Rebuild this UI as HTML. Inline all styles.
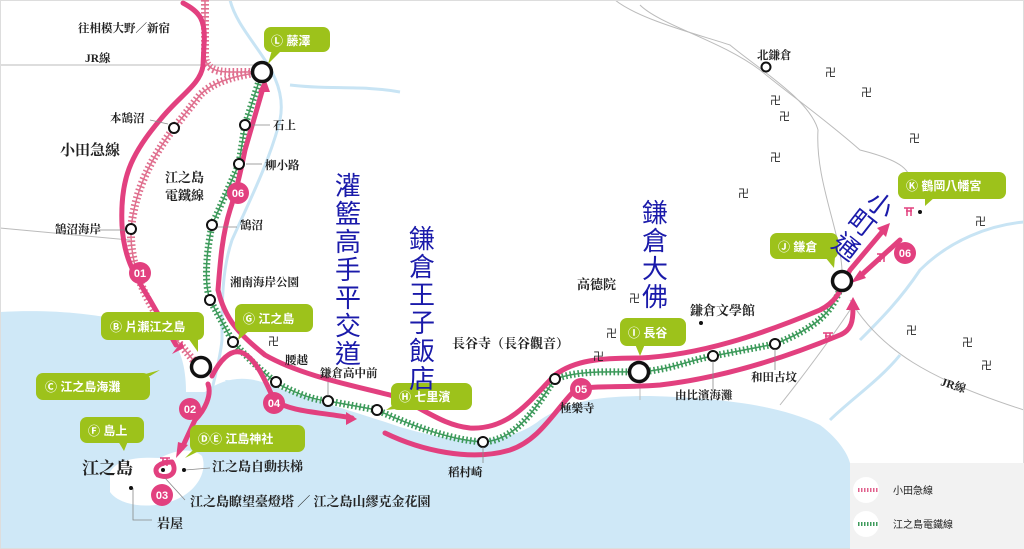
<!DOCTYPE html>
<html><head><meta charset="utf-8"><style>
html,body{margin:0;padding:0;background:#fff;}
svg{display:block;}
.t{font-family:"Liberation Serif","Noto Serif CJK SC","Noto Sans CJK TC",serif;font-size:11.5px;fill:#222;font-weight:bold;}
.c{font-family:"Liberation Sans","Noto Sans CJK TC",sans-serif;font-size:12px;fill:#fff;font-weight:bold;}
.b{font-family:"Liberation Sans","Noto Sans CJK TC",sans-serif;font-size:26px;fill:#1a1aaa;}
.m{font-family:"Noto Sans CJK TC",sans-serif;font-size:11px;fill:#222;}
.n{font-family:"Liberation Sans",sans-serif;font-size:11px;fill:#fff;font-weight:bold;}
</style></head><body>
<svg width="1024" height="549" viewBox="0 0 1024 549" xmlns="http://www.w3.org/2000/svg">
<rect x="0" y="0" width="1024" height="549" fill="#fff"/>
<!-- sea -->
<path d="M0,312 C70,308 140,318 172,340 C182,352 186,370 186,392 L205,392 C220,380 240,375 262,382 C300,396 350,410 400,427 C450,442 505,448 540,420 C570,400 600,396 650,396 C720,398 780,405 820,425 C840,440 848,455 850,463 L850,549 L0,549 Z" fill="#cfe8f7"/>
<path d="M110,472 C118,458 140,457 160,458 C175,450 192,447 202,456 C208,472 196,492 175,500 C150,510 120,506 110,492 Z" fill="#fff"/>
<path d="M225,380 C235,395 250,395 262,382" fill="#cfe8f7"/>
<!-- rivers -->
<g fill="none" stroke="#c8e4f4" stroke-width="3">
<path d="M230,0 C240,40 290,70 280,120 C270,160 250,200 232,240 C222,270 222,300 222,340 C220,360 215,375 212,390"/>
<path d="M290,85 C330,90 360,85 400,92"/>
<path d="M860,340 C880,320 900,300 920,270 C950,240 990,225 1024,222"/>
<path d="M830,420 C850,400 880,380 900,355"/>
</g>
<!-- roads -->
<g fill="none" stroke="#bbb" stroke-width="1">
<path d="M0,65 L262,65"/>
<path d="M615,0 C640,20 700,35 730,45 C760,70 810,100 818,130 C815,180 840,230 842,270"/>
<path d="M640,5 C660,25 720,40 760,70 C790,95 820,115 860,150 C900,160 915,170 910,190"/>
<path d="M850,300 C880,350 930,380 1024,410"/>
<path d="M0,228 C40,232 80,235 130,240"/>
<path d="M640,380 L640,400"/>
<path d="M780,405 C800,380 830,340 850,310"/>
</g>
<rect x="0.5" y="0.5" width="1023" height="548" fill="none" stroke="#ddd"/>
<!-- legend -->
<rect x="850" y="463" width="174" height="86" fill="#f2f2f2"/>
<circle cx="866" cy="490" r="13" fill="#fff"/><circle cx="866" cy="524" r="13" fill="#fff"/>
<line x1="858" y1="490" x2="878" y2="490" stroke="#e0608c" stroke-width="4" stroke-dasharray="1.5 1.5"/>
<line x1="858" y1="524" x2="878" y2="524" stroke="#3d9a5b" stroke-width="4" stroke-dasharray="1.5 1.5"/>
<text class="m" x="893" y="494" style="font-size:10px">小田急線</text>
<text class="m" x="893" y="528" style="font-size:10px">江之島電鐵線</text>
<!-- odakyu hatched -->
<g fill="none">
<path id="od" d="M205,0 L205,55 C205,68 215,72 230,72 L262,72 M262,72 C240,75 215,80 200,95 L174,128 C150,160 135,190 131,229 C130,260 140,290 160,320 L199,367" stroke="#e0708f" stroke-width="8" stroke-dasharray="1.6 2.4"/>
<path d="M205,0 L205,55 C205,68 215,72 230,72 L262,72 M262,72 C240,75 215,80 200,95 L174,128 C150,160 135,190 131,229 C130,260 140,290 160,320 L199,367" stroke="#e0708f" stroke-width="1.5"/>
<!-- enoden -->
<path d="M262,72 L245,125 L239,164 L212,225 C205,260 205,285 210,300 L233,342 C250,360 265,375 280,385 C300,395 315,400 328,401 L377,410 C410,425 450,440 483,442 C520,440 540,400 555,379 C580,370 610,372 639,372 C670,370 690,360 713,356 L775,344 C810,330 835,315 842,281" stroke="#3d9a5b" stroke-width="7" stroke-dasharray="1.6 2.4"/>
<path d="M262,72 L245,125 L239,164 L212,225 C205,260 205,285 210,300 L233,342 C250,360 265,375 280,385 C300,395 315,400 328,401 L377,410 C410,425 450,440 483,442 C520,440 540,400 555,379 C580,370 610,372 639,372 C670,370 690,360 713,356 L775,344 C810,330 835,315 842,281" stroke="#3d9a5b" stroke-width="1.5"/>
</g>
<!-- pink routes -->
<g fill="none" stroke="#e2407f" stroke-width="5" stroke-linecap="round">
<path d="M183,3 C200,12 206,20 204,45 L203,66 C200,85 180,95 160,120 C130,155 120,180 122,225 C124,260 135,275 150,300 L176,345"/>
<path d="M208,384 C212,395 205,410 195,420 L182,448"/>
<path d="M172,462 C160,462 152,468 158,475 C170,480 178,472 172,462"/>
<path d="M212,376 C220,360 230,350 240,352 C255,356 265,380 274,400 C290,412 320,412 352,418"/>
<path d="M263,88 L245,150 C240,175 235,195 230,210 C222,235 220,265 218,290 C225,320 240,335 265,355 C300,375 350,385 390,395 C420,405 440,425 470,428 C510,430 530,400 555,375 C575,360 600,358 640,358 C700,355 760,335 820,310 C840,300 842,285 850,270 L882,232"/>
<path d="M900,240 L858,278"/>
<path d="M385,433 C420,450 470,462 510,450 C540,440 555,410 575,390 C590,385 620,388 660,385 C720,378 780,360 840,335 C852,330 853,320 853,308"/>
</g>
<g fill="#e2407f">
<polygon points="172,354 184,348 182,341"/>
<polygon points="176,458 188,445 178,442"/>
<polygon points="357,419 346,412 346,425"/>
<polygon points="265,78 258,92 270,92"/>
<polygon points="890,223 877,228 886,237"/>
<polygon points="851,283 860,270 866,278"/>
<polygon points="853,297 846,310 860,310"/>
</g>
<!-- torii -->
<g stroke="#e2407f" stroke-width="1.5" fill="none">
<path d="M160,458 h10 M162,461 h6 M163,458 v8 M167,458 v8"/>
<path d="M904,208 h10 M906,211 h6 M907,208 v8 M911,208 v8"/>
<path d="M877,254 h10 M879,257 h6 M880,254 v8 M884,254 v8"/>
<path d="M823,333 h10 M825,336 h6 M826,333 v8 M830,333 v8"/>
</g>
<!-- stations -->
<g fill="#fff" stroke="#111" stroke-width="2">
<circle cx="174" cy="128" r="5"/><circle cx="131" cy="229" r="5"/><circle cx="245" cy="125" r="5"/><circle cx="239" cy="164" r="5"/><circle cx="212" cy="225" r="5"/><circle cx="210" cy="300" r="5"/><circle cx="233" cy="342" r="5"/><circle cx="276" cy="382" r="5"/><circle cx="328" cy="401" r="5"/><circle cx="377" cy="410" r="5"/><circle cx="483" cy="442" r="5"/><circle cx="555" cy="379" r="5"/><circle cx="713" cy="356" r="5"/><circle cx="775" cy="344" r="5"/><circle cx="766" cy="67" r="4.5"/>
</g>
<g fill="#fff" stroke="#111" stroke-width="3.5">
<circle cx="262" cy="72" r="9.5"/><circle cx="201" cy="367" r="9.5"/><circle cx="639" cy="372" r="9.5"/><circle cx="842" cy="281" r="9.5"/>
</g>
<!-- numbers -->
<g fill="#e2407f"><circle cx="140" cy="273" r="11"/><circle cx="238" cy="193" r="11"/><circle cx="190" cy="409" r="11"/><circle cx="274" cy="403" r="11"/><circle cx="162" cy="495" r="11"/><circle cx="581" cy="389" r="11"/><circle cx="905" cy="253" r="11"/></g>
<g class="n" text-anchor="middle"><text x="140" y="277">01</text><text x="238" y="197">06</text><text x="190" y="413">02</text><text x="274" y="407">04</text><text x="162" y="499">03</text><text x="581" y="393">05</text><text x="905" y="257">06</text></g>
<!-- callouts -->
<g fill="#9dc21b">
<rect x="264" y="27" width="66" height="25" rx="7"/><polygon points="272,50 282,50 268,64"/>
<rect x="101" y="312" width="103" height="28" rx="7"/><polygon points="188,338 198,338 198,352"/>
<rect x="36" y="373" width="114" height="27" rx="7"/><polygon points="138,376 150,376 160,370"/>
<rect x="235" y="304" width="78" height="28" rx="7"/><polygon points="240,330 250,330 238,340"/>
<rect x="391" y="383" width="81" height="27" rx="7"/><polygon points="395,404 405,408 386,410"/>
<rect x="190" y="425" width="115" height="27" rx="7"/><polygon points="195,448 205,448 185,458"/>
<rect x="80" y="417" width="64" height="26" rx="7"/><polygon points="118,441 128,441 124,451"/>
<rect x="620" y="318" width="66" height="28" rx="7"/><polygon points="635,344 645,344 640,356"/>
<rect x="770" y="233" width="68" height="26" rx="7"/><polygon points="825,257 835,257 834,268"/>
<rect x="898" y="172" width="108" height="27" rx="7"/><polygon points="925,197 935,197 925,206"/>
</g>
<g class="c">
<text x="271" y="45">Ⓛ 藤澤</text><text x="110" y="331">Ⓑ 片瀨江之島</text><text x="45" y="391">Ⓒ 江之島海灘</text><text x="243" y="323">Ⓖ 江之島</text><text x="399" y="401">Ⓗ 七里濱</text><text x="198" y="443">ⒹⒺ 江島神社</text><text x="88" y="435">Ⓕ 島上</text><text x="628" y="337">Ⓘ 長谷</text><text x="778" y="251">Ⓙ 鎌倉</text><text x="906" y="190">Ⓚ 鶴岡八幡宮</text>
</g>
<!-- labels -->
<g class="t">
<text x="78" y="32">往相模大野／新宿</text><text x="85" y="62">JR線</text><text x="110" y="122">本鵠沼</text>
<text x="60" y="155" style="font-size:15px">小田急線</text><text x="55" y="233">鵠沼海岸</text>
<text x="165" y="182" style="font-size:13px">江之島</text><text x="165" y="200" style="font-size:13px">電鐵線</text>
<text x="273" y="129">石上</text><text x="265" y="169">柳小路</text><text x="240" y="229">鵠沼</text><text x="230" y="286">湘南海岸公園</text>
<text x="285" y="364">腰越</text><text x="320" y="377">鎌倉高中前</text><text x="452" y="348" style="font-size:13px">長谷寺（長谷觀音）</text>
<text x="577" y="289" style="font-size:13px">高德院</text><text x="690" y="315" style="font-size:13px">鎌倉文學館</text>
<text x="675" y="399">由比濱海灘</text><text x="751" y="381">和田古坟</text><text x="560" y="412">極樂寺</text><text x="448" y="476">稻村崎</text>
<text x="82" y="474" style="font-size:17px">江之島</text><text x="212" y="471" style="font-size:13px">江之島自動扶梯</text>
<text x="190" y="506" style="font-size:13px">江之島瞭望臺燈塔 ／ 江之島山繆克金花園</text><text x="157" y="528" style="font-size:13px">岩屋</text>
<text x="757" y="59">北鎌倉</text>
<text x="940" y="385" transform="rotate(18 940 385)">JR線</text>
</g>
<g fill="none" stroke="#888" stroke-width="0.8">
<path d="M150,120 L168,124"/><path d="M95,230 L125,230"/><path d="M252,125 L270,125"/><path d="M246,164 L262,164"/><path d="M218,227 L237,227"/>
<path d="M328,396 L328,382"/><path d="M483,447 L483,463"/><path d="M713,361 L713,390"/><path d="M775,349 L775,370"/>
<path d="M185,470 L210,468"/><path d="M165,478 L185,500"/><path d="M133,488 L133,520 L152,520"/>
</g>
<g fill="#111"><circle cx="184" cy="470" r="2"/><circle cx="163" cy="470" r="2"/><circle cx="131" cy="488" r="2"/><circle cx="701" cy="323" r="2"/><circle cx="920" cy="212" r="2"/></g>
<!-- manji -->
<g class="m">
<text x="825" y="76">卍</text><text x="861" y="96">卍</text><text x="770" y="104">卍</text><text x="779" y="120">卍</text><text x="770" y="161">卍</text><text x="909" y="142">卍</text><text x="738" y="197">卍</text><text x="975" y="225">卍</text><text x="629" y="302">卍</text><text x="606" y="337">卍</text><text x="593" y="360">卍</text><text x="906" y="334">卍</text><text x="962" y="346">卍</text><text x="981" y="369">卍</text><text x="268" y="345">卍</text>
</g>
<!-- blue big labels -->
<g class="b" text-anchor="middle">
<text x="348" y="195">灌</text><text x="348" y="223">籃</text><text x="348" y="251">高</text><text x="348" y="279">手</text><text x="348" y="307">平</text><text x="348" y="335">交</text><text x="348" y="363">道</text>
<text x="422" y="248">鎌</text><text x="422" y="276">倉</text><text x="422" y="304">王</text><text x="422" y="332">子</text><text x="422" y="360">飯</text><text x="422" y="388">店</text>
<text x="655" y="222">鎌</text><text x="655" y="250">倉</text><text x="655" y="278">大</text><text x="655" y="306">佛</text>
<text x="880" y="214" transform="rotate(38 880 205)">小</text><text x="862" y="232" transform="rotate(38 862 223)">町</text><text x="846" y="256" transform="rotate(38 846 247)">通</text>
</g>
</svg>
</body></html>
